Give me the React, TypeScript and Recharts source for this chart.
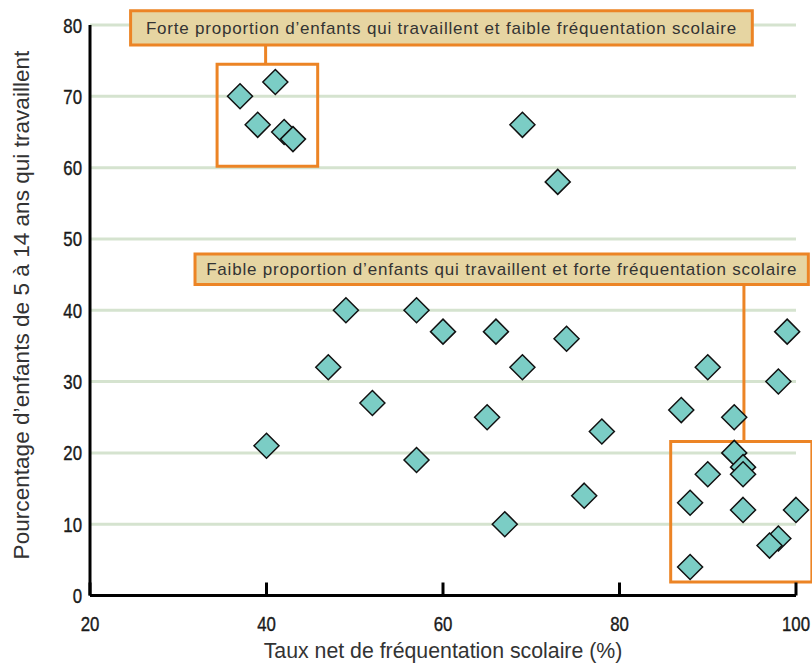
import React from 'react';
import {
  ScatterChart,
  Scatter,
  XAxis,
  YAxis,
  CartesianGrid,
  ReferenceArea,
  ReferenceLine,
} from 'recharts';

// Taux net de fréquentation scolaire (%) et % d'enfants de 5-14 ans qui travaillent
const attendance = [
  37, 41, 39, 42, 43, 69, 73,
  49, 57, 60, 66, 74, 47, 69, 90, 99, 98,
  52, 65, 87, 93, 78, 40, 57, 93, 94, 94,
  90, 88, 76, 94, 100, 67, 98, 97, 88,
];
const childLabour = [
  70, 72, 66, 65, 64, 66, 58,
  40, 40, 37, 37, 36, 32, 32, 32, 37, 30,
  27, 25, 26, 25, 23, 21, 19, 20, 18, 17,
  17, 13, 14, 12, 12, 10, 8, 7, 4,
];
const xTicks = [20, 40, 60, 80, 100];
const yTicks = [0, 10, 20, 30, 40, 50, 60, 70, 80];

const highLabourNote = "Forte proportion d\u2019enfants qui travaillent et faible fréquentation scolaire";
const lowLabourNote = "Faible proportion d\u2019enfants qui travaillent et forte fréquentation scolaire";

const data = attendance.map((x, i) => ({ x, y: childLabour[i] }));

const ORANGE = '#ec8425';
const BOX_FILL = '#e6d5a2';
const TEXT = '#333333';
const regular = "'Liberation Sans', Arial, sans-serif";

const Diamond = (props: any) => {
  const { cx, cy } = props;
  const r = 12.5;
  return (
    <polygon
      points={`${cx},${cy - r} ${cx + r},${cy} ${cx},${cy + r} ${cx - r},${cy}`}
      fill="#7bcdc5"
      stroke="#111"
      strokeWidth={1.5}
    />
  );
};

// condensed look of the original tick font
const NarrowText = ({ x, y, anchor, children }: any) => (
  <text
    transform={`translate(${x},${y}) scale(0.82,1)`}
    textAnchor={anchor}
    fill="#1a1a1a"
    stroke="#1a1a1a"
    strokeWidth={0.4}
    fontSize={20.5}
    fontFamily={regular}
  >
    {children}
  </text>
);

const XTick = (props: any) => {
  const { x, y, payload } = props;
  return (
    <g>
      <line x1={x} x2={x} y1={y} y2={y - 13} stroke="#000" strokeWidth={3} />
      <NarrowText x={x} y={y + 35} anchor="middle">{payload.value}</NarrowText>
    </g>
  );
};

const YTick = (props: any) => {
  const { x, y, payload } = props;
  return <NarrowText x={x - 8} y={y + 7.5} anchor="end">{payload.value}</NarrowText>;
};

const XTitle = (props: any) => {
  const vb = props.viewBox;
  return (
    <text x={vb.x + vb.width / 2} y={658} textAnchor="middle" fill={TEXT} fontSize={21.3} fontFamily={regular}>
      Taux net de fréquentation scolaire (%)
    </text>
  );
};

const YTitle = () => (
  <text
    x={29}
    y={305}
    transform="rotate(-90, 29, 305)"
    textAnchor="middle"
    fill={TEXT}
    fontSize={22.6}
    fontFamily={regular}
  >
    Pourcentage d{'\u2019'}enfants de 5 à 14 ans qui travaillent
  </text>
);

const BoxText = (props: any) => {
  const vb = props.viewBox;
  return (
    <text
      x={vb.x + vb.width / 2}
      y={vb.y + vb.height / 2 + 6}
      textAnchor="middle"
      fill={TEXT}
      fontSize={17}
      letterSpacing={0.8}
      fontFamily={regular}
    >
      {props.text}
    </text>
  );
};

export default function App() {
  return (
    <div style={{ position: 'absolute', left: 0, top: 0, background: '#fff' }}>
      <ScatterChart width={812} height={670} margin={{ top: 25, right: 16, bottom: 0, left: 0 }}>
        <CartesianGrid vertical={false} stroke="#d5e3cf" strokeWidth={3} />
        <XAxis
          type="number"
          dataKey="x"
          domain={[20, 100]}
          ticks={xTicks}
          height={74.5}
          axisLine={{ stroke: '#000', strokeWidth: 3 }}
          tickLine={false}
          tickSize={0}
          tickMargin={0}
          tick={<XTick />}
          label={<XTitle />}
        />
        <YAxis
          type="number"
          dataKey="y"
          domain={[0, 80]}
          ticks={yTicks}
          width={90}
          axisLine={{ stroke: '#000', strokeWidth: 3 }}
          tickLine={false}
          tickSize={0}
          tickMargin={0}
          tick={<YTick />}
          label={<YTitle />}
        />
        <ReferenceArea x1={34.4} x2={45.8} y1={60.2} y2={74.5} fill="none" stroke={ORANGE} strokeWidth={3} fillOpacity={0} ifOverflow="visible" />
        <ReferenceArea x1={85.8} x2={101.8} y1={1.9} y2={21.6} fill="none" stroke={ORANGE} strokeWidth={3} fillOpacity={0} ifOverflow="visible" />
        <ReferenceLine segment={[{ x: 39.9, y: 77.2 }, { x: 39.9, y: 74.5 }]} stroke={ORANGE} strokeWidth={3} ifOverflow="visible" />
        <ReferenceLine segment={[{ x: 94.1, y: 43.6 }, { x: 94.1, y: 21.6 }]} stroke={ORANGE} strokeWidth={3} ifOverflow="visible" />
        <ReferenceArea x1={24.6} x2={95.05} y1={77.2} y2={82} fill={BOX_FILL} fillOpacity={1} stroke={ORANGE} strokeWidth={3} ifOverflow="visible" label={<BoxText text={highLabourNote} />} />
        <ReferenceArea x1={31.9} x2={101.4} y1={43.6} y2={47.9} fill={BOX_FILL} fillOpacity={1} stroke={ORANGE} strokeWidth={3} ifOverflow="visible" label={<BoxText text={lowLabourNote} />} />
        <Scatter data={data} shape={<Diamond />} isAnimationActive={false} />
      </ScatterChart>
    </div>
  );
}
